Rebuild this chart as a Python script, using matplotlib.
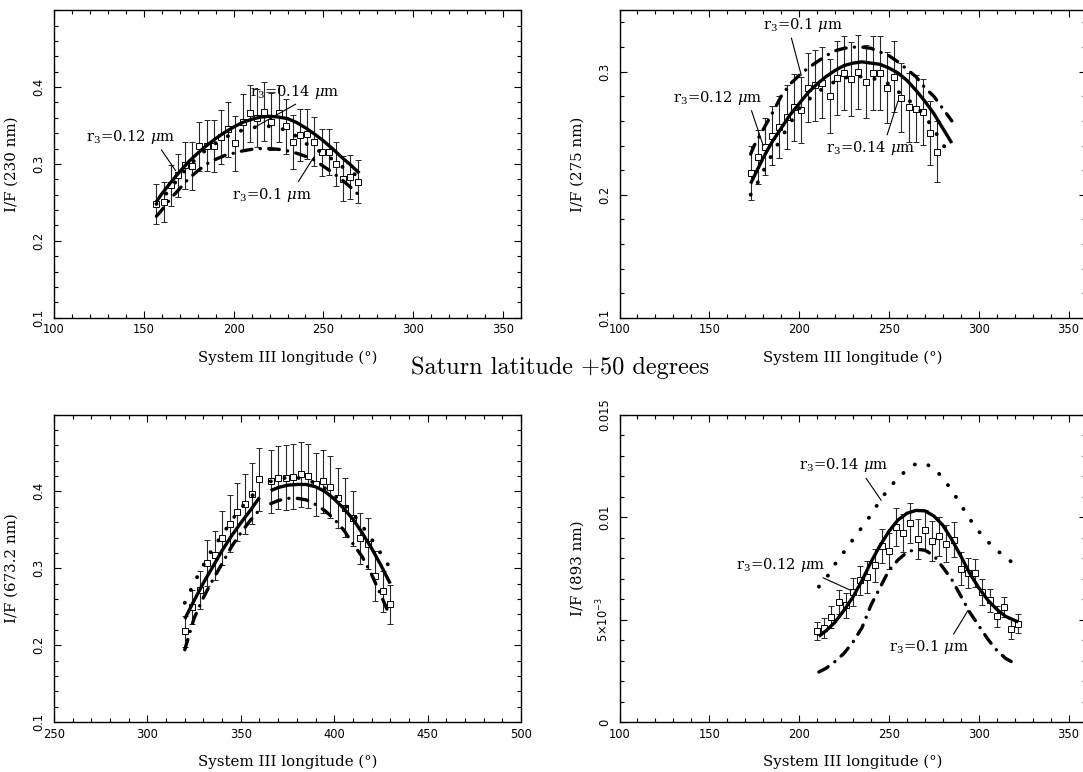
import numpy as np
import matplotlib
matplotlib.use("Agg")
import matplotlib.pyplot as plt
from matplotlib.ticker import MultipleLocator

# ---------------- data ----------------
# 230 nm
lon230 = [157, 161, 165, 169, 173, 177, 181, 185, 189, 193, 197, 201, 205, 209, 213,
          217, 221, 225, 229, 233, 237, 241, 245, 249, 253, 257, 261, 265, 269]
if230 = [0.248, 0.251, 0.272, 0.285, 0.298, 0.297, 0.323, 0.324, 0.323, 0.335, 0.345,
         0.327, 0.354, 0.366, 0.360, 0.368, 0.355, 0.366, 0.349, 0.329, 0.338, 0.339,
         0.329, 0.315, 0.315, 0.300, 0.281, 0.283, 0.277]
err230 = [0.026, 0.026, 0.027, 0.028, 0.030, 0.031, 0.032, 0.033, 0.034, 0.035, 0.036,
          0.036, 0.037, 0.037, 0.038, 0.038, 0.037, 0.037, 0.036, 0.035, 0.034, 0.033,
          0.032, 0.031, 0.030, 0.029, 0.029, 0.028, 0.028]
m230_lon = [157, 160, 165, 170, 175, 180, 185, 190, 195, 200, 205, 210, 215, 220, 225,
            230, 235, 240, 245, 250, 255, 260, 265, 270]
m230_r012 = [0.251, 0.261, 0.276, 0.290, 0.303, 0.314, 0.324, 0.333, 0.341, 0.348, 0.354,
             0.358, 0.361, 0.362, 0.361, 0.359, 0.354, 0.347, 0.339, 0.330, 0.320, 0.309,
             0.299, 0.288]
m230_r010 = [0.232, 0.240, 0.255, 0.268, 0.281, 0.291, 0.300, 0.306, 0.311, 0.314, 0.317,
             0.319, 0.320, 0.320, 0.319, 0.317, 0.314, 0.310, 0.305, 0.297, 0.289, 0.280,
             0.270, 0.259]
m230_r014 = [0.248, 0.255, 0.268, 0.284, 0.297, 0.309, 0.319, 0.327, 0.334, 0.340, 0.344,
             0.347, 0.349, 0.349, 0.347, 0.343, 0.336, 0.327, 0.320, 0.314, 0.306, 0.297,
             0.290, 0.283]

# 275 nm
lon275 = [173, 177, 181, 185, 189, 193, 197, 201, 205, 209, 213, 217, 221, 225, 229,
          233, 237, 241, 245, 249, 253, 257, 261, 265, 269, 273, 277]
if275 = [0.218, 0.231, 0.239, 0.248, 0.255, 0.263, 0.271, 0.269, 0.287, 0.289, 0.291,
         0.280, 0.295, 0.299, 0.294, 0.300, 0.292, 0.299, 0.299, 0.287, 0.296, 0.279,
         0.271, 0.270, 0.267, 0.250, 0.235]
err275 = [0.022, 0.022, 0.023, 0.024, 0.025, 0.026, 0.027, 0.027, 0.028, 0.029, 0.029,
          0.030, 0.030, 0.030, 0.030, 0.030, 0.030, 0.030, 0.030, 0.029, 0.029, 0.028,
          0.028, 0.027, 0.027, 0.026, 0.025]
m275_lon = [173, 175, 180, 185, 190, 195, 200, 205, 210, 215, 220, 225, 230, 235, 240,
            245, 250, 255, 260, 265, 270, 275, 280, 285]
m275_r012 = [0.209, 0.215, 0.230, 0.243, 0.254, 0.265, 0.274, 0.283, 0.290, 0.296, 0.301,
             0.305, 0.307, 0.308, 0.307, 0.306, 0.303, 0.299, 0.293, 0.285, 0.276, 0.266,
             0.254, 0.242]
m275_r010 = [0.233, 0.240, 0.253, 0.266, 0.280, 0.290, 0.297, 0.303, 0.308, 0.313, 0.317,
             0.319, 0.320, 0.320, 0.319, 0.316, 0.313, 0.308, 0.302, 0.296, 0.287, 0.280,
             0.270, 0.260]
m275_r014 = [0.200, 0.204, 0.219, 0.233, 0.246, 0.258, 0.270, 0.277, 0.283, 0.288, 0.292,
             0.295, 0.296, 0.296, 0.295, 0.293, 0.290, 0.284, 0.278, 0.272, 0.264, 0.253,
             0.241, 0.230]

# 673.2 nm
lon673 = [320, 324, 328, 332, 336, 340, 344, 348, 352, 356, 360, 366, 370, 374, 378,
          382, 386, 390, 394, 398, 402, 406, 410, 414, 418, 422, 426, 430]
if673 = [0.218, 0.250, 0.272, 0.307, 0.317, 0.339, 0.358, 0.373, 0.384, 0.397, 0.416,
         0.413, 0.418, 0.418, 0.419, 0.422, 0.420, 0.409, 0.413, 0.406, 0.391, 0.379,
         0.365, 0.339, 0.332, 0.290, 0.270, 0.253]
err673 = [0.020, 0.022, 0.025, 0.030, 0.032, 0.035, 0.037, 0.038, 0.039, 0.040, 0.041,
          0.041, 0.041, 0.042, 0.042, 0.042, 0.042, 0.041, 0.041, 0.040, 0.039, 0.038,
          0.036, 0.033, 0.033, 0.033, 0.027, 0.025]
# model curves come in two pieces (gap between 360 and 366)
m673_lon_a = [320, 325, 330, 335, 340, 345, 350, 355, 360]
m673_lon_b = [366, 370, 375, 380, 385, 390, 395, 400, 405, 410, 415, 420, 425, 430]
m673_r012_a = [0.234, 0.258, 0.281, 0.302, 0.323, 0.342, 0.359, 0.375, 0.392]
m673_r012_b = [0.401, 0.405, 0.408, 0.409, 0.409, 0.406, 0.400, 0.390, 0.378, 0.364,
               0.346, 0.326, 0.304, 0.280]
m673_r010_a = [0.194, 0.235, 0.262, 0.285, 0.306, 0.328, 0.346, 0.362, 0.376]
m673_r010_b = [0.384, 0.388, 0.391, 0.391, 0.389, 0.383, 0.375, 0.364, 0.350, 0.332,
               0.315, 0.292, 0.265, 0.237]
m673_r014_a = [0.255, 0.281, 0.304, 0.326, 0.343, 0.362, 0.378, 0.392, 0.403]
m673_r014_b = [0.413, 0.416, 0.418, 0.418, 0.415, 0.411, 0.404, 0.395, 0.384, 0.371,
               0.355, 0.338, 0.319, 0.300]

# 893 nm
lon893 = [210, 214, 218, 222, 226, 230, 234, 238, 242, 246, 250, 254, 258, 262, 266,
          270, 274, 278, 282, 286, 290, 294, 298, 302, 306, 310, 314, 318, 322]
if893 = [0.00444, 0.00460, 0.00512, 0.00585, 0.00569, 0.00634, 0.00691, 0.00707, 0.00764,
         0.00859, 0.00834, 0.00951, 0.00922, 0.00971, 0.00894, 0.00938, 0.00883, 0.00906,
         0.00870, 0.00889, 0.00748, 0.00727, 0.00727, 0.00634, 0.00593, 0.00515, 0.00561,
         0.00455, 0.00480]
err893 = [0.00045, 0.00048, 0.00052, 0.00058, 0.00062, 0.00067, 0.00072, 0.00076, 0.00080,
          0.00084, 0.00088, 0.00092, 0.00095, 0.00098, 0.00098, 0.00098, 0.00096, 0.00094,
          0.00090, 0.00086, 0.00080, 0.00074, 0.00068, 0.00062, 0.00057, 0.00053, 0.00050,
          0.00048, 0.00046]
m893_lon = [211, 215, 220, 225, 230, 235, 240, 245, 250, 255, 260, 265, 270, 275, 280,
            285, 290, 295, 300, 305, 310, 315, 322]
m893_r012 = [0.00418, 0.00445, 0.00487, 0.00545, 0.00610, 0.00690, 0.00780, 0.00860,
             0.00930, 0.00985, 0.01018, 0.01032, 0.01030, 0.01005, 0.00960, 0.00890,
             0.00810, 0.00725, 0.00655, 0.00595, 0.00550, 0.00515, 0.00488]
m893_r010 = [0.00244, 0.00262, 0.00295, 0.00335, 0.00390, 0.00460, 0.00570, 0.00655,
             0.00740, 0.00790, 0.00828, 0.00843, 0.00838, 0.00812, 0.00755, 0.00695,
             0.00615, 0.00535, 0.00470, 0.00405, 0.00350, 0.00310, 0.00276]
m893_r014 = [0.0066, 0.0070, 0.0077, 0.0083, 0.0089, 0.0095, 0.0101, 0.0108, 0.0114,
             0.0119, 0.0123, 0.0126, 0.0126, 0.0124, 0.0119, 0.0113, 0.0106, 0.0099,
             0.0093, 0.0088, 0.0084, 0.0080, 0.0076]

# ---------------- styling ----------------
TICKFONT = dict(family="DejaVu Sans", size=8.3)
SERIF = "DejaVu Serif"
LW = 2.4
DASHDOT = (0, (3.2, 2.5, 0.05, 2.5))
DOTS = (0, (0.05, 3.6))

fig = plt.figure(figsize=(10.83, 7.72), dpi=100)

W = 467 / 1083
H = 307.5 / 772
pos = {
    "tl": [54 / 1083, 1 - 317.7 / 772, W, H],
    "tr": [619.5 / 1083, 1 - 317.7 / 772, W, H],
    "bl": [54 / 1083, 1 - 722 / 772, W, H],
    "br": [619.5 / 1083, 1 - 722 / 772, W, H],
}


def setup(ax, xlim, ylim, yticks, yticklabels, ylabel, yminor):
    ax.set_xlim(*xlim)
    ax.set_ylim(*ylim)
    ax.xaxis.set_major_locator(MultipleLocator(50))
    ax.xaxis.set_minor_locator(MultipleLocator(10))
    ax.set_yticks(yticks)
    ax.set_yticklabels(yticklabels, rotation=90, va="center", **TICKFONT)
    ax.yaxis.set_minor_locator(MultipleLocator(yminor))
    for lab in ax.get_xticklabels():
        lab.set_fontfamily(TICKFONT["family"])
        lab.set_fontsize(TICKFONT["size"])
    ax.tick_params(which="both", direction="in", top=True, right=True, width=0.8)
    ax.tick_params(which="major", length=5.0)
    ax.tick_params(which="minor", length=2.6)
    ax.tick_params(axis="x", pad=4)
    ax.tick_params(axis="y", pad=6)
    for sp in ax.spines.values():
        sp.set_linewidth(1.0)
    ax.set_xlabel("System III longitude (\u00b0)", family=SERIF, fontsize=10.8)
    ax.xaxis.set_label_coords(0.5, -0.107)
    ax.set_ylabel(ylabel, family=SERIF, fontsize=10.8)
    ax.yaxis.set_label_coords(-0.075, 0.5)


def data(ax, lon, val, err):
    ax.errorbar(lon, val, yerr=err, fmt="s", ms=4, mfc="white", mec="k", mew=0.7,
                ecolor="0.15", elinewidth=0.8, capsize=2.2, capthick=0.8, zorder=2)


def models(ax, lon, r012, r010, r014):
    ax.plot(lon, r012, color="k", lw=LW, solid_capstyle="butt", zorder=3)
    ax.plot(lon, r010, color="k", lw=LW, ls=DASHDOT, dash_capstyle="round", zorder=3)
    ax.plot(lon, r014, color="k", lw=LW + 0.4, ls=DOTS, dash_capstyle="round", zorder=3)


def label(ax, txt, xytext, xy, relpos):
    ax.annotate(txt, xy=xy, xytext=xytext, ha="left", va="center", family=SERIF,
                fontsize=10.6, math_fontfamily="dejavuserif",
                arrowprops=dict(arrowstyle="-", lw=0.8, color="k", relpos=relpos,
                                shrinkA=1, shrinkB=0))


# ---- top left: 230 nm ----
ax1 = fig.add_axes(pos["tl"])
setup(ax1, (100, 360), (0.1, 0.5), [0.1, 0.2, 0.3, 0.4], ["0.1", "0.2", "0.3", "0.4"],
      "I/F (230 nm)", 0.02)
data(ax1, lon230, if230, err230)
models(ax1, m230_lon, m230_r012, m230_r010, m230_r014)
label(ax1, r"r$_3$=0.14 $\mu$m", (209, 0.394), (212.7, 0.349), (0.62, 0.1))
label(ax1, r"r$_3$=0.12 $\mu$m", (117.6, 0.335), (167.8, 0.291), (0.82, 0.0))
label(ax1, r"r$_3$=0.1 $\mu$m", (199, 0.260), (244.7, 0.309), (0.8, 1.0))

# ---- top right: 275 nm ----
ax2 = fig.add_axes(pos["tr"])
setup(ax2, (100, 360), (0.1, 0.35), [0.1, 0.2, 0.3], ["0.1", "0.2", "0.3"],
      "I/F (275 nm)", 0.02)
data(ax2, lon275, if275, err275)
models(ax2, m275_lon, m275_r012, m275_r010, m275_r014)
label(ax2, r"r$_3$=0.1 $\mu$m", (180, 0.338), (201.2, 0.297), (0.34, 0.0))
label(ax2, r"r$_3$=0.12 $\mu$m", (130, 0.279), (180, 0.240), (0.86, 0.0))
label(ax2, r"r$_3$=0.14 $\mu$m", (215, 0.238), (255, 0.276), (0.67, 1.0))

# ---- bottom left: 673.2 nm ----
ax3 = fig.add_axes(pos["bl"])
setup(ax3, (250, 500), (0.1, 0.5), [0.1, 0.2, 0.3, 0.4], ["0.1", "0.2", "0.3", "0.4"],
      "I/F (673.2 nm)", 0.02)
data(ax3, lon673, if673, err673)
models(ax3, m673_lon_a, m673_r012_a, m673_r010_a, m673_r014_a)
models(ax3, m673_lon_b, m673_r012_b, m673_r010_b, m673_r014_b)

# ---- bottom right: 893 nm ----
ax4 = fig.add_axes(pos["br"])
setup(ax4, (100, 360), (0, 0.015), [0, 0.005, 0.01, 0.015],
      ["0", r"5$\times$10$^{-3}$", "0.01", "0.015"], "I/F (893 nm)", 0.001)
data(ax4, lon893, if893, err893)
models(ax4, m893_lon, m893_r012, m893_r010, m893_r014)
label(ax4, r"r$_3$=0.14 $\mu$m", (200, 0.01252), (245.7, 0.01081), (0.72, 0.0))
label(ax4, r"r$_3$=0.12 $\mu$m", (165, 0.00764), (228.8, 0.00642), (0.8, 0.2))
label(ax4, r"r$_3$=0.1 $\mu$m", (250, 0.00366), (294.1, 0.00545), (0.78, 1.0))

fig.text(560.5 / 1083, 1 - 368 / 772, "Saturn latitude +50 degrees", family="cmr10",
         fontsize=17.5, ha="center", va="center")

fig.savefig("out.png", dpi=100)
